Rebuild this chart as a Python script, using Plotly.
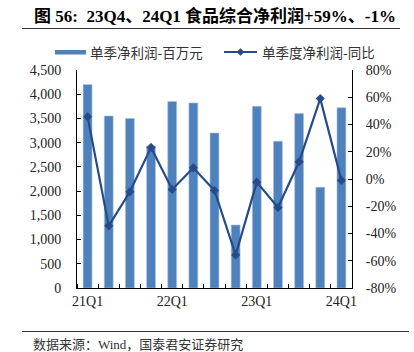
import plotly.graph_objects as go

quarters = ["21Q1", "21Q2", "21Q3", "21Q4", "22Q1", "22Q2", "22Q3", "22Q4",
            "23Q1", "23Q2", "23Q3", "23Q4", "24Q1"]
profit = [4200, 3550, 3500, 2930, 3850, 3820, 3200, 1300, 3750, 3030, 3600, 2080, 3720]
yoy = [45.7, -34.4, -9.4, 23.2, -7.7, 8.2, -8.4, -55.7, -2.3, -20.9, 12.6, 59, -1]
label_quarters = ["21Q1", "22Q1", "23Q1", "24Q1"]
left_ticks = [0, 500, 1000, 1500, 2000, 2500, 3000, 3500, 4000, 4500]
right_ticks = [-80, -60, -40, -20, 0, 20, 40, 60, 80]

BAR = "#4F81BD"
LINE = "#264B8A"
SERIF = "Liberation Serif, Times New Roman, Noto Sans CJK SC"
CJK = "Noto Sans CJK SC"

W, H = 414, 352
L, R, T, B = 77, 62, 70, 64
PW, PH = W - L - R, H - T - B

def px_x(px):
    return (px - L) / PW

def px_y(py):
    return (H - B - py) / PH

idx = list(range(len(quarters)))

fig = go.Figure()
fig.add_trace(go.Bar(x=idx, y=profit, name="单季净利润-百万元",
                     marker=dict(color=BAR, line=dict(color="#A9C1E3", width=0.6)),
                     width=0.42, yaxis="y", showlegend=False))
fig.add_trace(go.Scatter(x=idx, y=yoy, name="单季度净利润-同比", mode="lines+markers",
                         line=dict(color=LINE, width=2.2),
                         marker=dict(symbol="diamond", size=7, color=LINE),
                         yaxis="y2", showlegend=False))

fig.update_layout(
    width=W, height=H,
    margin=dict(l=L, r=R, t=T, b=B, pad=0),
    plot_bgcolor="white", paper_bgcolor="white",
    xaxis=dict(
        range=[-0.5, len(quarters) - 0.5],
        tickmode="array",
        tickvals=[quarters.index(q) for q in label_quarters],
        ticktext=label_quarters,
        ticks="", showgrid=False, zeroline=False,
        showline=True, linecolor="black", linewidth=1,
        tickfont=dict(family=SERIF, size=14, color="#222"),
        minor=dict(tickvals=[i - 0.5 for i in range(len(quarters) + 1)],
                   ticks="inside", ticklen=4, tickcolor="black", showgrid=False),
    ),
    yaxis=dict(
        range=[0, 4500], tickmode="array", tickvals=left_ticks,
        ticktext=[f"{v:,}" for v in left_ticks],
        ticks="inside", ticklen=4, tickcolor="black",
        showgrid=False, zeroline=False,
        showline=True, linecolor="black", linewidth=1,
        tickfont=dict(family=SERIF, size=14, color="#222"),
        ticklabelstandoff=12,
    ),
    yaxis2=dict(
        range=[-80, 80], overlaying="y", side="right", tickmode="array",
        tickvals=right_ticks, ticktext=[f"{v}%" for v in right_ticks],
        ticks="inside", ticklen=4, tickcolor="black",
        showgrid=False, zeroline=False,
        showline=True, linecolor="black", linewidth=1,
        tickfont=dict(family=SERIF, size=14, color="#222"),
        ticklabelstandoff=10,
    ),
    font=dict(family=SERIF, color="#222"),
)

# Title
fig.add_annotation(xref="paper", yref="paper", x=px_x(32), y=px_y(16),
                   xanchor="left", yanchor="middle", showarrow=False,
                   text="<b>图 56:  23Q4、24Q1 食品综合净利润+59%、-1%</b>",
                   font=dict(family=SERIF, size=17, color="black"))
fig.add_shape(type="line", xref="paper", yref="paper",
              x0=px_x(22), x1=px_x(400), y0=px_y(28.5), y1=px_y(28.5),
              line=dict(color="#333", width=1.2))

# Legend (manual)
fig.add_shape(type="rect", xref="paper", yref="paper",
              x0=px_x(55), x1=px_x(86), y0=px_y(54.5), y1=px_y(50),
              fillcolor=BAR, line=dict(width=0))
fig.add_annotation(xref="paper", yref="paper", x=px_x(88), y=px_y(52),
                   xanchor="left", yanchor="middle", showarrow=False,
                   text="单季净利润-百万元",
                   font=dict(family=CJK, size=13.5, color="#333"))
fig.add_shape(type="line", xref="paper", yref="paper",
              x0=px_x(224), x1=px_x(257), y0=px_y(52), y1=px_y(52),
              line=dict(color=LINE, width=2))
cx, cy, d = 240.5, 52, 3.8
fig.add_shape(type="path", xref="paper", yref="paper",
              path=(f"M {px_x(cx - d)} {px_y(cy)} L {px_x(cx)} {px_y(cy - d)} "
                    f"L {px_x(cx + d)} {px_y(cy)} L {px_x(cx)} {px_y(cy + d)} Z"),
              fillcolor=LINE, line=dict(width=0))
fig.add_annotation(xref="paper", yref="paper", x=px_x(260), y=px_y(52),
                   xanchor="left", yanchor="middle", showarrow=False,
                   text="单季度净利润-同比",
                   font=dict(family=CJK, size=13.5, color="#333"))

# Source
fig.add_shape(type="line", xref="paper", yref="paper",
              x0=px_x(22), x1=px_x(409), y0=px_y(331.5), y1=px_y(331.5),
              line=dict(color="#333", width=1.2))
fig.add_annotation(xref="paper", yref="paper", x=px_x(31), y=px_y(344),
                   xanchor="left", yanchor="middle", showarrow=False,
                   text="数据来源：Wind，国泰君安证券研究",
                   font=dict(family="Liberation Serif, Noto Sans CJK SC", size=13, color="#333"))

fig.write_html("out.html")
